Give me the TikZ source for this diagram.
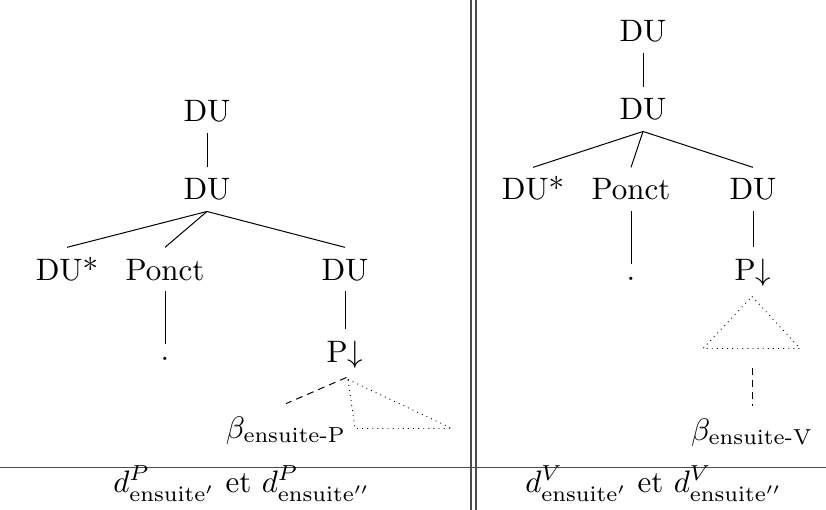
\documentclass[tikz,border=0pt]{standalone}
\begin{document}
\begin{tikzpicture}[x=1pt,y=-1pt,
  every node/.style={scale=3.1, inner xsep=1pt},
  lab/.style={anchor=base, text height=6.83pt, text depth=0pt, inner ysep=3.5pt},
  dotnode/.style={anchor=base, text height=1.2pt, text depth=0pt, inner ysep=3.7pt},
  leaf/.style={anchor=base, text height=6.9pt, text depth=0pt, inner ysep=4.0pt},
  edge/.style={line width=1pt},
  dashedge/.style={line width=1pt, dash pattern=on 7pt off 5pt},
  dotedge/.style={line width=0.9pt, dash pattern=on 0.9pt off 4.2pt},
  sep/.style={line width=1.1pt, black!70}]
\useasboundingbox (0,0) rectangle (826,510);
% ---------- left tree ----------
\node[lab] (L1) at (207,122) {DU};
\node[lab] (L2) at (207,200) {DU};
\node[lab] (L3) at (67,280) {DU*};
\node[lab] (L4) at (165,280) {Ponct};
\node[lab] (L5) at (345,280) {DU};
\node[dotnode] (L6) at (165,360) {.};
\node[lab] (L7) at (345,362) {P$\downarrow$};
\node[leaf] (L8) at (286,438) {$\beta_{\mbox{\scriptsize ensuite-P}}$};
\draw[edge] (L1.south) -- (L2.north);
\draw[edge] (L2.south) -- (L3.north);
\draw[edge] (L2.south) -- (L4.north);
\draw[edge] (L2.south) -- (L5.north);
\draw[edge] (L4.south) -- (L6.north);
\draw[edge] (L5.south) -- (L7.north);
\coordinate (LA) at ([xshift=1.5pt,yshift=-4pt]L7.south);
\draw[dashedge] (LA) -- (L8.north);
\draw[dotedge] ([xshift=1.5pt,yshift=-2pt]LA) -- ++(104,49) -- ++(-97,0) -- cycle;
% ---------- right tree ----------
\node[lab] (R1) at (643,42) {DU};
\node[lab] (R2) at (643,120) {DU};
\node[lab] (R3) at (533,200) {DU*};
\node[lab] (R4) at (631,200) {Ponct};
\node[lab] (R5) at (753,200) {DU};
\node[dotnode] (R6) at (631,280) {.};
\node[lab] (R7) at (753,280) {P$\downarrow$};
\node[leaf] (R8) at (752,440) {$\beta_{\mbox{\scriptsize ensuite-V}}$};
\draw[edge] (R1.south) -- (R2.north);
\draw[edge] (R2.south) -- (R3.north);
\draw[edge] (R2.south) -- (R4.north);
\draw[edge] (R2.south) -- (R5.north);
\draw[edge] (R4.south) -- (R6.north);
\draw[edge] (R5.south) -- (R7.north);
\coordinate (RA) at ([xshift=-1pt,yshift=-5pt]R7.south);
\draw[dotedge] (RA) -- ++(48,52) -- ++(-97,0) -- cycle;
\coordinate (RB) at ([yshift=-72pt]RA);
\draw[dashedge] (RB) -- (R8.north);
% ---------- frame ----------
\draw[sep] (471,0) -- (471,510);
\draw[sep] (476,0) -- (476,510);
\draw[sep] (0,467.7) -- (826,467.7);
\node[anchor=base] (CL) at (242,492) {$d^P_{\mathrm{ensuite}'}$ et $d^P_{\mathrm{ensuite}''}$};
\node[anchor=base] (CR) at (654,492) {$d^V_{\mathrm{ensuite}'}$ et $d^V_{\mathrm{ensuite}''}$};
\end{tikzpicture}
\end{document}
